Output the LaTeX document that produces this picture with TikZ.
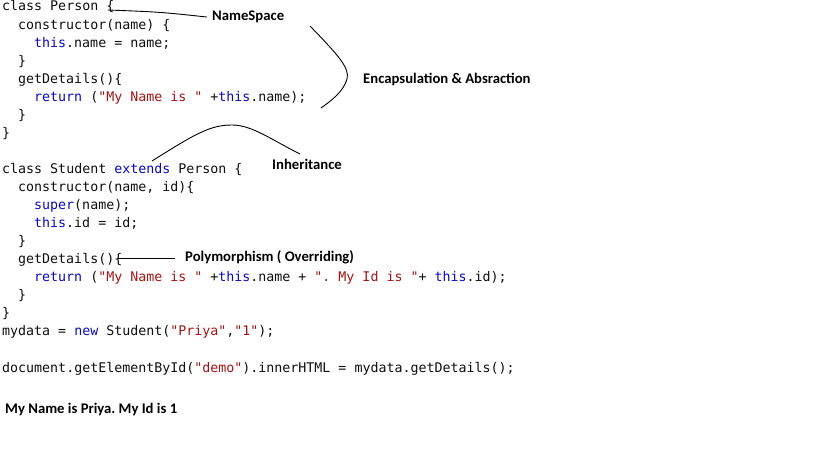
\documentclass[tikz,border=0pt]{standalone}
\usepackage{fontspec}
\setmonofont{DejaVu Sans Mono}
\newfontfamily\lblfont{Carlito}
\definecolor{kw}{RGB}{10,10,190}
\definecolor{strc}{RGB}{163,21,21}
\definecolor{txt}{RGB}{15,15,15}
\newcommand{\K}[1]{\textcolor{kw}{#1}}
\newcommand{\Sg}[1]{\textcolor{strc}{#1}}
\frenchspacing
\begin{document}
\begin{tikzpicture}[x=1pt,y=-1pt,
  code/.style={anchor=base west, inner sep=0pt, font=\ttfamily\fontsize{13.3}{16}\selectfont, text=txt},
  lbl/.style={anchor=base west, inner sep=0pt, font=\lblfont\bfseries\frenchspacing\fontsize{14.7}{17}\selectfont, text=black},
  conn/.style={draw=black, line width=0.9pt}]
\useasboundingbox (0,0) rectangle (819,460);
\fill[white] (0,0) rectangle (819,460);
% code lines
\node[code] (c1)  at (2,11)     {class Person \{};
\node[code] (c2)  at (18,29.05) {constructor(name) \{};
\node[code] (c3)  at (34,47.1)  {\K{this}.name = name;};
\node[code] (c4)  at (18,65.15) {\}};
\node[code] (c5)  at (18,83.2)  {getDetails()\{};
\node[code] (c6)  at (34,101.25){\K{return} (\Sg{"My Name is "} +\K{this}.name);};
\node[code] (c7)  at (18,119.3) {\}};
\node[code] (c8)  at (2,137.35) {\}};
\node[code] (c10) at (2,173.45) {class Student \K{extends} Person \{};
\node[code] (c11) at (18,191.5) {constructor(name, id)\{};
\node[code] (c12) at (34,209.55){\K{super}(name);};
\node[code] (c13) at (34,227.6) {\K{this}.id = id;};
\node[code] (c14) at (18,245.65){\}};
\node[code] (c15) at (18,263.7) {getDetails()\{};
\node[code] (c16) at (34,281.75){\K{return} (\Sg{"My Name is "} +\K{this}.name + \Sg{". My Id is "}+ \K{this}.id);};
\node[code] (c17) at (18,299.8) {\}};
\node[code] (c18) at (2,317.85) {\}};
\node[code] (c19) at (2,335.9)  {mydata = \K{new} Student(\Sg{"Priya"},\Sg{"1"});};
\node[code] (c21) at (2,372)    {document.getElementById(\Sg{"demo"}).innerHTML = mydata.getDetails();};
% labels
\node[lbl] (ns)   at (212,20.7)  {NameSpace};
\node[lbl] (enc)  at (363,83.7)  {Encapsulation \& Absraction};
\node[lbl] (inh)  at (272,169.7) {Inheritance};
\node[lbl] (poly) at (185,261.7) {Polymorphism ( Overriding)};
\node[lbl] (out)  at (5,413.5)   {My Name is Priya. My Id is 1};
% connector ends
\coordinate (nsA) at (108,10);
\coordinate (polyA) at (118,258);
\coordinate (encA) at (310,26);
\coordinate (encB) at (321,108);
\coordinate (inhA) at (152,161);
\coordinate (inhB) at (300,154);
% connectors
\draw[conn] (nsA) .. controls (160,12) .. ([xshift=-5pt]ns.west);
\draw[conn] (polyA) -- ([xshift=-10pt]poly.west |- polyA);
\draw[conn] (encA) .. controls (338,55) and (350,68) .. (347,79)
                   .. controls (344,91) and (331,101) .. (encB);
\draw[conn] (inhA) .. controls (195,134) and (210,125) .. (232,125)
                   .. controls (252,125) and (272,140) .. (inhB);
\end{tikzpicture}
\end{document}
